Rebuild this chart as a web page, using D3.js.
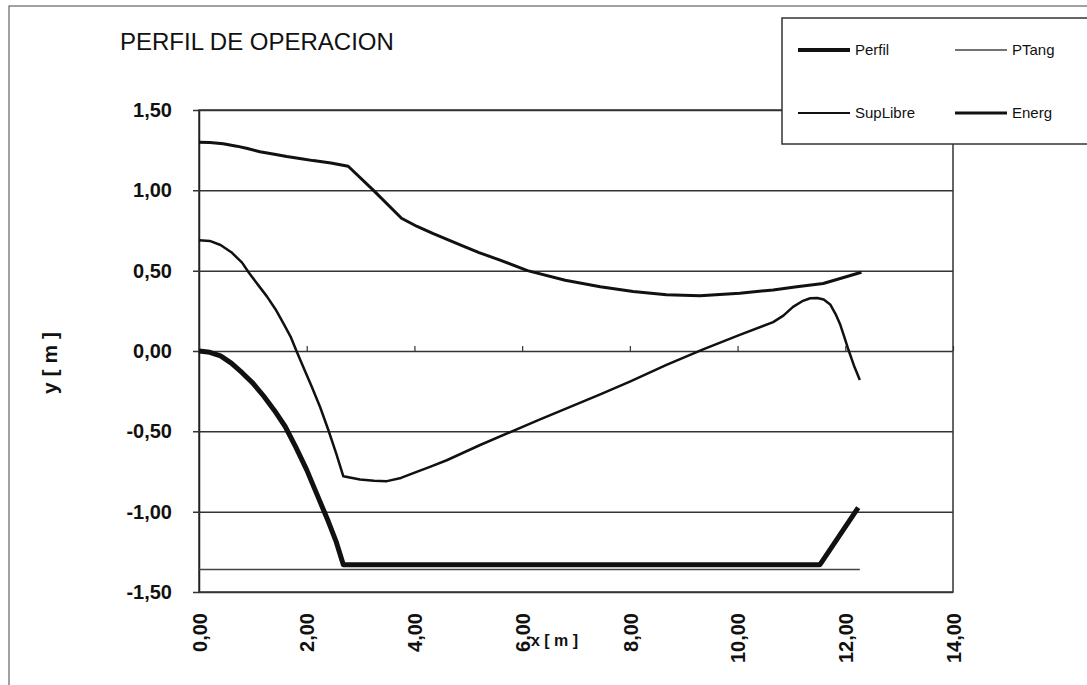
<!DOCTYPE html>
<html>
<head>
<meta charset="utf-8">
<script src="https://cdn.jsdelivr.net/npm/d3@7"></script>
<style>
  body { margin: 0; background: #fff; }
  svg { font-family: "Liberation Sans", Arial, sans-serif; }
</style>
</head>
<body>
<svg id="chart"></svg>
<script>
// values
const xTicks = [0, 2, 4, 6, 8, 10, 12, 14];
const yTicks = [-1.5, -1.0, -0.5, 0, 0.5, 1.0, 1.5];

const perfil = [
  [0, 0], [0.2, -0.008], [0.4, -0.03], [0.6, -0.075], [0.8, -0.135], [1.0, -0.2],
  [1.2, -0.28], [1.4, -0.37], [1.6, -0.47], [1.8, -0.6], [2.0, -0.74], [2.2, -0.9],
  [2.4, -1.06], [2.55, -1.19], [2.68, -1.33],
  [11.53, -1.33], [12.24, -0.975]
];
const ptang = [[0, -1.36], [12.27, -1.36]];
const supLibre = [
  [0, 0.69], [0.2, 0.685], [0.4, 0.66], [0.6, 0.615], [0.8, 0.55], [0.92, 0.49],
  [1.1, 0.41], [1.26, 0.34], [1.42, 0.26], [1.57, 0.17], [1.7, 0.09], [1.81, 0.0],
  [1.95, -0.11], [2.09, -0.22], [2.25, -0.35], [2.4, -0.49], [2.55, -0.64], [2.68, -0.78],
  [2.99, -0.8], [3.25, -0.807], [3.49, -0.81], [3.75, -0.79], [3.98, -0.76], [4.3, -0.72],
  [4.6, -0.68], [5.22, -0.585], [6.3, -0.43], [7.45, -0.27], [8.0, -0.19],
  [8.68, -0.087], [9.36, 0.01], [10.04, 0.1], [10.66, 0.18], [10.85, 0.22], [11.03, 0.275],
  [11.2, 0.31], [11.35, 0.328], [11.48, 0.33], [11.6, 0.32], [11.72, 0.29], [11.82, 0.23],
  [11.9, 0.17], [11.98, 0.09], [12.06, 0.006], [12.16, -0.09], [12.27, -0.18]
];
const energ = [
  [0, 1.3], [0.2, 1.298], [0.45, 1.29], [0.7, 1.275], [0.9, 1.26], [1.13, 1.24],
  [1.4, 1.225], [1.63, 1.21], [1.9, 1.197], [2.12, 1.185], [2.45, 1.17], [2.77, 1.15],
  [3.24, 1.0], [3.76, 0.826], [4.05, 0.775], [4.35, 0.73], [4.85, 0.66], [5.2, 0.612],
  [5.59, 0.566], [6.1, 0.5], [6.8, 0.44], [7.45, 0.4], [8.06, 0.37], [8.68, 0.35],
  [9.3, 0.344], [10.04, 0.36], [10.66, 0.38], [11.1, 0.4], [11.59, 0.42], [12.3, 0.49]
];
const legendItems = [
  { name: 'Perfil', width: 4, color: '#111' },
  { name: 'PTang', width: 1.5, color: '#444' },
  { name: 'SupLibre', width: 2, color: '#111' },
  { name: 'Energ', width: 3, color: '#111' }
];

const width = 1087;
const height = 685;
const plotLeft = 199;
const plotRight = 953;
const plotTop = 110;
const plotBottom = 592;

const fmt = d3.formatLocale({ decimal: ',', thousands: '.', grouping: [3], currency: ['', ''], minus: '-' }).format('.2f');

const svg = d3.select('#chart')
  .attr('width', width)
  .attr('height', height);

// outer frame of the scanned sheet
svg.append('rect')
  .attr('x', 9).attr('y', 6)
  .attr('width', width + 20).attr('height', height + 20)
  .attr('fill', 'none').attr('stroke', '#444').attr('stroke-width', 1);

const x = d3.scaleLinear().domain([0, 14]).range([plotLeft, plotRight]);
const y = d3.scaleLinear().domain([-1.5, 1.5]).range([plotBottom, plotTop]);

svg.append('text')
  .attr('x', 120).attr('y', 50)
  .attr('font-size', 24)
  .attr('fill', '#111')
  .text('PERFIL DE OPERACION');

// plot border
svg.append('rect')
  .attr('x', plotLeft).attr('y', plotTop)
  .attr('width', plotRight - plotLeft).attr('height', plotBottom - plotTop)
  .attr('fill', 'none').attr('stroke', '#333').attr('stroke-width', 1.5);

// y axis with horizontal grid
const yAxis = svg.append('g')
  .attr('transform', `translate(${plotLeft},0)`)
  .call(d3.axisLeft(y).tickValues(yTicks).tickFormat(fmt)
    .tickSizeInner(-(plotRight - plotLeft)).tickSizeOuter(0).tickPadding(27));
yAxis.select('.domain').attr('stroke', '#222').attr('stroke-width', 1.5);
yAxis.selectAll('.tick line').attr('x1', -6).attr('stroke', '#333').attr('stroke-width', 1.5);
yAxis.selectAll('.tick text')
  .attr('font-size', 20).attr('font-weight', 'bold').attr('fill', '#111')
  .attr('font-family', '"Liberation Sans", Arial, sans-serif');

// x axis crossing at y = 0, small upward ticks
const xAxis0 = svg.append('g')
  .attr('transform', `translate(0,${y(0)})`)
  .call(d3.axisBottom(x).tickValues(xTicks).tickFormat('').tickSizeInner(-5).tickSizeOuter(0));
xAxis0.select('.domain').remove();
xAxis0.selectAll('.tick line').attr('stroke', '#333').attr('stroke-width', 1.2);

// x tick labels at the bottom, rotated
const xAxisLab = svg.append('g')
  .attr('transform', `translate(0,${plotBottom})`)
  .call(d3.axisBottom(x).tickValues(xTicks).tickFormat(fmt).tickSize(0));
xAxisLab.select('.domain').remove();
xAxisLab.selectAll('.tick text')
  .attr('transform', 'rotate(-90)')
  .attr('x', -21).attr('y', 0).attr('dy', '0.36em')
  .attr('text-anchor', 'end')
  .attr('font-size', 20).attr('font-weight', 'bold').attr('fill', '#111')
  .attr('font-family', '"Liberation Sans", Arial, sans-serif');

svg.append('text')
  .attr('transform', 'translate(57,363) rotate(-90)')
  .attr('text-anchor', 'middle')
  .attr('font-size', 21).attr('font-weight', 'bold').attr('fill', '#111')
  .attr('xml:space', 'preserve')
  .text('y [ m ]');

svg.append('text')
  .attr('x', 531).attr('y', 646)
  .attr('text-anchor', 'start')
  .attr('font-size', 16).attr('font-weight', 'bold').attr('fill', '#111')
  .text('x [ m ]');

const line = d3.line().x(d => x(d[0])).y(d => y(d[1]));

svg.append('path').datum(ptang)
  .attr('d', line).attr('fill', 'none').attr('stroke', '#444').attr('stroke-width', 1.5);
svg.append('path').datum(energ)
  .attr('d', line).attr('fill', 'none').attr('stroke', '#111').attr('stroke-width', 3)
  .attr('stroke-linejoin', 'round');
svg.append('path').datum(supLibre)
  .attr('d', line).attr('fill', 'none').attr('stroke', '#111').attr('stroke-width', 2.5)
  .attr('stroke-linejoin', 'round');
svg.append('path').datum(perfil)
  .attr('d', line).attr('fill', 'none').attr('stroke', '#111').attr('stroke-width', 5)
  .attr('stroke-linejoin', 'round');

// legend box (covers the top-right corner of the plot)
const legend = svg.append('g');
legend.append('rect')
  .attr('x', 782).attr('y', 18).attr('width', 320).attr('height', 126)
  .attr('fill', '#fff').attr('stroke', '#333').attr('stroke-width', 1.5);

const legX = [798, 955];
const legY = [50, 113];
legendItems.forEach((d, i) => {
  const lx = legX[i % 2];
  const ly = legY[Math.floor(i / 2)];
  legend.append('line')
    .attr('x1', lx).attr('x2', lx + 52).attr('y1', ly).attr('y2', ly)
    .attr('stroke', d.color).attr('stroke-width', d.width);
  legend.append('text')
    .attr('x', lx + 57).attr('y', ly).attr('dy', '0.35em')
    .attr('font-size', 15).attr('fill', '#111')
    .text(d.name);
});
</script>
</body>
</html>
